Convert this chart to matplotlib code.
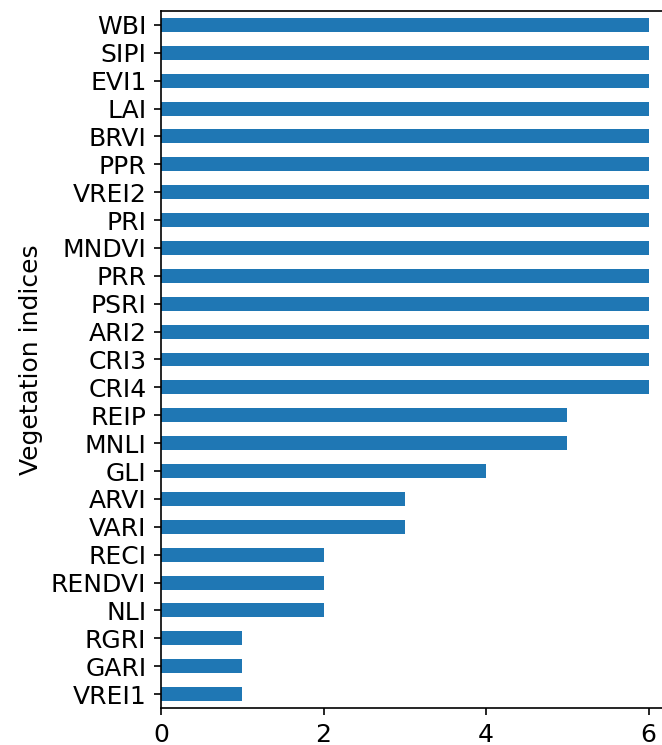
import pandas as pd
from matplotlib import pyplot as plt

# bottom to top, as pandas barh draws them
indices = ['VREI1', 'GARI', 'RGRI', 'NLI', 'RENDVI', 'RECI', 'VARI', 'ARVI',
           'GLI', 'MNLI', 'REIP', 'CRI4', 'CRI3', 'ARI2', 'PSRI', 'PRR',
           'MNDVI', 'PRI', 'VREI2', 'PPR', 'BRVI', 'LAI', 'EVI1', 'SIPI', 'WBI']
counts = [1, 1, 1, 2, 2, 2, 3, 3,
          4, 5, 5, 6, 6, 6, 6, 6,
          6, 6, 6, 6, 6, 6, 6, 6, 6]

plt.rcParams['font.size'] = 12
dpi = 150
fig = plt.figure(figsize=(662 / dpi, 745 / dpi), dpi=dpi)
# axes runs past the right edge, as in the cropped original
ax = fig.add_axes([161 / 662, 37 / 745, 512 / 662, 697 / 745])

s = pd.Series(counts, index=indices)
s.plot.barh(ax=ax, color='#1f77b4')
ax.set_ylabel('Vegetation indices')
ax.set_xticks([0, 2, 4, 6])

fig.savefig('out.png', dpi=dpi)
